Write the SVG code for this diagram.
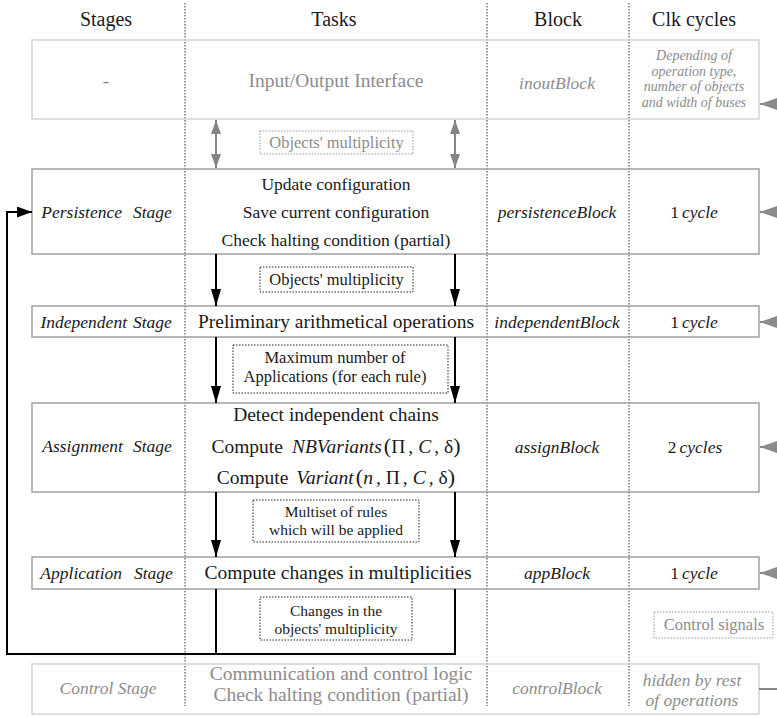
<svg xmlns="http://www.w3.org/2000/svg" width="777" height="717" viewBox="0 0 777 717" font-family="'Liberation Serif', 'DejaVu Serif', serif">
<style>
text { font-family: 'Liberation Serif', 'DejaVu Serif', serif; fill: #1a1a1a; }
.hdr { font-size: 20px; }
.t19 { font-size: 19.5px; }
.t17 { font-size: 17.5px; }
.it { font-style: italic; font-size: 17.5px; }
.i { font-style: italic; }
.g { fill: #8c8c8c; }
.lbl { font-size: 16.5px; }
.lbs { font-size: 15.5px; }
.clk { font-style: italic; font-size: 14px; fill: #8c8c8c; }
.box { fill: none; stroke: #a0a0a0; stroke-width: 1.5; }
.lbox { fill: none; stroke: #d2d2d2; stroke-width: 1.5; }
.dbox { fill: none; stroke: #222; stroke-width: 1; stroke-dasharray: 1.5 1.5; }
.dgbox { fill: none; stroke: #999; stroke-width: 1; stroke-dasharray: 1.5 1.5; }
.col { stroke: #333; stroke-width: 1; stroke-dasharray: 1.5 1.5; }
.blk { fill: none; stroke: #000; stroke-width: 2; }
.gry { fill: none; stroke: #858585; stroke-width: 2; }
</style>
<defs>
<marker id="ab" viewBox="0 0 17 10" markerWidth="17" markerHeight="10" refX="17" refY="5" orient="auto" markerUnits="userSpaceOnUse"><path d="M0,0 L17,5 L0,10 z" fill="#000"/></marker>
<marker id="ag" viewBox="0 0 14 10" markerWidth="14" markerHeight="10" refX="14" refY="5" orient="auto-start-reverse" markerUnits="userSpaceOnUse"><path d="M0,0 L14,5 L0,10 z" fill="#858585"/></marker>
<marker id="ar" viewBox="0 0 17 12" markerWidth="17" markerHeight="12" refX="17" refY="6" orient="auto" markerUnits="userSpaceOnUse"><path d="M0,0 L17,6 L0,12 z" fill="#8c8c8c"/></marker>
<marker id="af" viewBox="0 0 15 11" markerWidth="15" markerHeight="11" refX="15" refY="5.5" orient="auto" markerUnits="userSpaceOnUse"><path d="M0,0 L15,5.5 L0,11 z" fill="#000"/></marker>
</defs>
<rect width="777" height="717" fill="#fff"/>

<g id="columns">
<line class="col" x1="185" y1="3" x2="185" y2="706"/>
<line class="col" x1="487" y1="3" x2="487" y2="706"/>
<line class="col" x1="629" y1="3" x2="629" y2="706"/>
</g>

<g id="header">
<text class="hdr" x="106" y="26" text-anchor="middle">Stages</text>
<text class="hdr" x="334" y="26" text-anchor="middle">Tasks</text>
<text class="hdr" x="558" y="26" text-anchor="middle">Block</text>
<text class="hdr" x="694" y="26" text-anchor="middle">Clk cycles</text>
</g>

<g id="inout">
<rect class="lbox" x="32" y="40" width="727" height="79"/>
<text class="t19 g" x="106" y="87" text-anchor="middle">-</text>
<text class="t19 g" x="336" y="87" text-anchor="middle">Input/Output Interface</text>
<text class="it g" x="557" y="89" text-anchor="middle">inoutBlock</text>
<text class="clk" text-anchor="middle"><tspan x="694" y="60">Depending of</tspan><tspan x="694" dy="15.5">operation type,</tspan><tspan x="694" dy="15.5">number of objects</tspan><tspan x="694" dy="15.5">and width of buses</tspan></text>
</g>

<g id="persistence">
<rect class="box" x="32" y="169" width="727" height="85"/>
<text class="it" x="122" y="218" text-anchor="end">Persistence</text>
<text class="it" x="133" y="218">Stage</text>
<text class="t17" x="336" y="190" text-anchor="middle">Update configuration</text>
<text class="t17" x="336" y="218" text-anchor="middle">Save current configuration</text>
<text class="t17" x="336" y="246" text-anchor="middle">Check halting condition (partial)</text>
<text class="it" x="557" y="218" text-anchor="middle">persistenceBlock</text>
<text class="t17" x="694" y="218" text-anchor="middle">1<tspan class="i" dx="3">cycle</tspan></text>
</g>

<g id="independent">
<rect class="box" x="32" y="306" width="727" height="31"/>
<text class="it" x="127" y="328" text-anchor="end">Independent</text>
<text class="it" x="133" y="328">Stage</text>
<text class="t19" x="336" y="328" text-anchor="middle">Preliminary arithmetical operations</text>
<text class="it" x="557" y="328" text-anchor="middle">independentBlock</text>
<text class="t17" x="694" y="328" text-anchor="middle">1<tspan class="i" dx="3">cycle</tspan></text>
</g>

<g id="assignment">
<rect class="box" x="32" y="403" width="727" height="89"/>
<text class="it" x="123" y="452" text-anchor="end">Assignment</text>
<text class="it" x="133" y="452">Stage</text>
<text class="t19" x="336" y="421" text-anchor="middle">Detect independent chains</text>
<text class="t19" x="336" y="453" text-anchor="middle">Compute<tspan class="i" dx="9">NBVariants</tspan><tspan dx="2" font-size="22">(</tspan>Π<tspan dx="3">,</tspan><tspan class="i" dx="5">C</tspan><tspan dx="3">,</tspan><tspan dx="5">δ</tspan><tspan font-size="22">)</tspan></text>
<text class="t19" x="336" y="484" text-anchor="middle">Compute<tspan class="i" dx="8">Variant</tspan><tspan dx="2" font-size="22">(</tspan><tspan class="i">n</tspan><tspan dx="3">,</tspan><tspan dx="5">Π</tspan><tspan dx="3">,</tspan><tspan class="i" dx="5">C</tspan><tspan dx="3">,</tspan><tspan dx="5">δ</tspan><tspan font-size="22">)</tspan></text>
<text class="it" x="557" y="453" text-anchor="middle">assignBlock</text>
<text class="t17" x="695" y="453" text-anchor="middle">2<tspan class="i" dx="3">cycles</tspan></text>
</g>

<g id="application">
<rect class="box" x="32" y="557" width="727" height="32"/>
<text class="it" x="122" y="579" text-anchor="end">Application</text>
<text class="it" x="134" y="579">Stage</text>
<text class="t19" x="338" y="579" text-anchor="middle">Compute changes in multiplicities</text>
<text class="it" x="557" y="579" text-anchor="middle">appBlock</text>
<text class="t17" x="694" y="579" text-anchor="middle">1<tspan class="i" dx="3">cycle</tspan></text>
</g>

<g id="control">
<rect class="lbox" x="32" y="664" width="727" height="50"/>
<text class="it g" x="108" y="694" text-anchor="middle">Control Stage</text>
<text class="t19 g" text-anchor="middle"><tspan x="341" y="680">Communication and control logic</tspan><tspan x="341" dy="21">Check halting condition (partial)</tspan></text>
<text class="it g" x="557" y="694" text-anchor="middle">controlBlock</text>
<text class="it g" text-anchor="middle"><tspan x="692" y="686">hidden by rest</tspan><tspan x="692" dy="20">of operations</tspan></text>
</g>

<g id="connectors">
<line class="gry" x1="216" y1="120" x2="216" y2="168" marker-start="url(#ag)" marker-end="url(#ag)"/>
<line class="gry" x1="455" y1="120" x2="455" y2="168" marker-start="url(#ag)" marker-end="url(#ag)"/>
<line class="blk" x1="216" y1="254" x2="216" y2="306" marker-end="url(#ab)"/>
<line class="blk" x1="455" y1="254" x2="455" y2="306" marker-end="url(#ab)"/>
<line class="blk" x1="216" y1="337" x2="216" y2="403" marker-end="url(#ab)"/>
<line class="blk" x1="455" y1="337" x2="455" y2="403" marker-end="url(#ab)"/>
<line class="blk" x1="216" y1="492" x2="216" y2="557" marker-end="url(#ab)"/>
<line class="blk" x1="455" y1="492" x2="455" y2="557" marker-end="url(#ab)"/>
<line class="blk" x1="216" y1="589" x2="216" y2="654"/>
<path class="blk" d="M455,589 V654 H7 V212 H32" marker-end="url(#af)"/>
<line class="gry" x1="777" y1="104" x2="760" y2="104" marker-end="url(#ar)"/>
<line class="gry" x1="777" y1="212" x2="760" y2="212" marker-end="url(#ar)"/>
<line class="gry" x1="777" y1="322" x2="760" y2="322" marker-end="url(#ar)"/>
<line class="gry" x1="777" y1="447" x2="760" y2="447" marker-end="url(#ar)"/>
<line class="gry" x1="777" y1="573" x2="760" y2="573" marker-end="url(#ar)"/>
<line class="gry" x1="759" y1="689" x2="777" y2="689"/>
</g>

<g id="label-objects-io">
<rect class="dgbox" x="260" y="131" width="153" height="23"/>
<text class="lbl g" x="336.5" y="148" text-anchor="middle">Objects' multiplicity</text>
</g>
<g id="label-objects">
<rect class="dbox" x="260" y="267" width="153" height="25"/>
<text class="lbl" x="336.5" y="285" text-anchor="middle">Objects' multiplicity</text>
</g>
<g id="label-maxapps">
<rect class="dbox" x="233" y="345" width="215" height="48"/>
<text class="lbl" text-anchor="middle"><tspan x="335" y="363">Maximum number of</tspan><tspan x="335" dy="18.5">Applications (for each rule)</tspan></text>
</g>
<g id="label-multiset">
<rect class="dbox" x="253" y="500" width="166" height="42"/>
<text class="lbs" text-anchor="middle"><tspan x="336" y="517">Multiset of rules</tspan><tspan x="336" dy="17.5">which will be applied</tspan></text>
</g>
<g id="label-changes">
<rect class="dbox" x="260" y="597" width="152" height="43"/>
<text class="lbs" text-anchor="middle"><tspan x="336" y="616">Changes in the</tspan><tspan x="336" dy="17.5">objects' multiplicity</tspan></text>
</g>
<g id="label-control">
<rect class="dgbox" x="654" y="612" width="119" height="26"/>
<text class="lbl g" x="714" y="630" text-anchor="middle">Control signals</text>
</g>
</svg>
